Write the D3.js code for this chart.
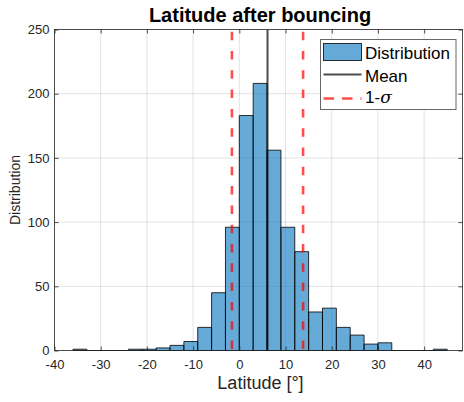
<!DOCTYPE html>
<html>
<head>
<meta charset="utf-8">
<script src="https://cdn.jsdelivr.net/npm/d3@7"></script>
<style>
  html, body { margin: 0; padding: 0; background: #fff; }
  svg { display: block; font-family: "Liberation Sans", Arial, Helvetica, sans-serif; }
</style>
</head>
<body>
<svg id="chart" width="464" height="402"></svg>
<script>
// Histogram of latitude after bouncing: bin edges every 3 degrees
const binStart = -36;
const binWidth = 3;
const counts = [1, 0, 0, 0, 1, 1, 2, 4, 7, 18, 45, 96, 183, 208, 156, 96, 77, 30, 33, 18, 12, 5, 6, 0, 0, 0, 1];

// Summary statistics drawn as vertical lines
const meanLat = 6.1;
const sigmaLat = 7.7;

// Axis ticks
const xTicks = [-40, -30, -20, -10, 0, 10, 20, 30, 40];
const yTicks = [0, 50, 100, 150, 200, 250];
const xDomain = [-40, 48.3];
const yDomain = [0, 250];

const legendLabels = ["Distribution", "Mean", "1-"];

const W = 464, H = 402;
const m = { left: 54.5, right: 1.5, top: 29.5, bottom: 51.5 };
const x0 = m.left, x1 = W - m.right, y0 = H - m.bottom, y1 = m.top;

const barFill = "#0072BD", barAlpha = 0.6;
const axisColor = "#262626";

const svg = d3.select("#chart");
const x = d3.scaleLinear().domain(xDomain).range([x0, x1]);
const y = d3.scaleLinear().domain(yDomain).range([y0, y1]);

// grid
const grid = svg.append("g").attr("stroke", axisColor).attr("stroke-opacity", 0.13).attr("stroke-width", 1);
xTicks.forEach(t => grid.append("line").attr("x1", x(t)).attr("x2", x(t)).attr("y1", y1).attr("y2", y0));
yTicks.forEach(t => grid.append("line").attr("x1", x0).attr("x2", x1).attr("y1", y(t)).attr("y2", y(t)));

// bars
const bins = counts.map((c, i) => ({ a: binStart + i * binWidth, b: binStart + (i + 1) * binWidth, c }));
svg.append("g").selectAll("path").data(bins).join("path")
  .attr("d", d => `M${x(d.a)},${y(0)}V${y(d.c)}H${x(d.b)}V${y(0)}Z`)
  .attr("fill", barFill).attr("fill-opacity", barAlpha)
  .attr("stroke", "#000").attr("stroke-opacity", 0.8).attr("stroke-width", 1);

// mean and 1-sigma lines
svg.append("line")
  .attr("x1", x(meanLat)).attr("x2", x(meanLat)).attr("y1", y1).attr("y2", y0)
  .attr("stroke", "#000").attr("stroke-opacity", 0.7).attr("stroke-width", 2);
[meanLat - sigmaLat, meanLat + sigmaLat].forEach(v => {
  svg.append("line")
    .attr("x1", x(v)).attr("x2", x(v)).attr("y1", y1).attr("y2", y0)
    .attr("stroke", "#ff0000").attr("stroke-opacity", 0.7).attr("stroke-width", 2.6)
    .attr("stroke-dasharray", "8.5,10.8").attr("stroke-dashoffset", 17.1);
});

// axes
const tickLen = 4;
const xAxisB = d3.axisBottom(x).tickValues(xTicks).tickSize(-tickLen).tickPadding(9).tickFormat(d => String(d));
const yAxisL = d3.axisLeft(y).tickValues(yTicks).tickSize(-tickLen).tickPadding(5);
const xAxisT = d3.axisTop(x).tickValues(xTicks).tickSize(-tickLen).tickFormat("");
const yAxisR = d3.axisRight(y).tickValues(yTicks).tickSize(-tickLen).tickFormat("");

function style(g) {
  g.selectAll("path.domain").attr("stroke", axisColor).attr("stroke-opacity", 0.8);
  g.selectAll(".tick line").attr("stroke", axisColor).attr("stroke-opacity", 0.8);
  g.selectAll(".tick text").attr("fill", axisColor).attr("font-size", 13)
    .attr("font-family", '"Liberation Sans", Arial, sans-serif');
}
svg.append("g").attr("transform", `translate(0,${y0})`).call(xAxisB).call(style);
svg.append("g").attr("transform", `translate(${x0},0)`).call(yAxisL).call(style);
svg.append("g").attr("transform", `translate(0,${y1})`).call(xAxisT).call(style);
svg.append("g").attr("transform", `translate(${x1},0)`).call(yAxisR).call(style);
svg.selectAll("path.domain").attr("d", null);
svg.append("rect").attr("x", x0).attr("y", y1).attr("width", x1 - x0).attr("height", y0 - y1)
  .attr("fill", "none").attr("stroke", axisColor).attr("stroke-opacity", 0.8);

// labels
svg.append("text").attr("x", (x0 + x1) / 2 + 1.5).attr("y", 22).attr("text-anchor", "middle")
  .attr("font-size", 20).attr("font-weight", "bold").attr("fill", "#000").text("Latitude after bouncing");
svg.append("text").attr("x", (x0 + x1) / 2 + 2).attr("y", 389).attr("text-anchor", "middle")
  .attr("font-size", 18).attr("fill", axisColor).text("Latitude [°]");
svg.append("text").attr("transform", `translate(19.5,${(y0 + y1) / 2}) rotate(-90)`).attr("text-anchor", "middle")
  .attr("font-size", 14).attr("fill", axisColor).text("Distribution");

// legend
const lg = svg.append("g");
lg.append("rect").attr("x", 320.5).attr("y", 39.5).attr("width", 135.5).attr("height", 70)
  .attr("fill", "#fff").attr("stroke", axisColor).attr("stroke-opacity", 0.7);
lg.append("rect").attr("x", 323.5).attr("y", 43.5).attr("width", 38).attr("height", 17)
  .attr("fill", barFill).attr("fill-opacity", barAlpha).attr("stroke", "#000").attr("stroke-opacity", 0.8);
lg.append("line").attr("x1", 323.5).attr("x2", 361.5).attr("y1", 74.5).attr("y2", 74.5)
  .attr("stroke", "#000").attr("stroke-opacity", 0.7).attr("stroke-width", 2);
lg.append("line").attr("x1", 323.5).attr("x2", 361.5).attr("y1", 98.5).attr("y2", 98.5)
  .attr("stroke", "#ff0000").attr("stroke-opacity", 0.7).attr("stroke-width", 2.6)
  .attr("stroke-dasharray", "10.5,8");
const ly = [59, 82, 103];
legendLabels.forEach((t, i) => {
  const tx = lg.append("text").attr("x", 365).attr("y", ly[i]).attr("font-size", 17).attr("fill", "#000").text(t);
  if (i === 2) tx.append("tspan").attr("font-style", "italic").attr("font-family", '"DejaVu Serif", "Liberation Serif", serif').text("σ");
});
</script>
</body>
</html>
